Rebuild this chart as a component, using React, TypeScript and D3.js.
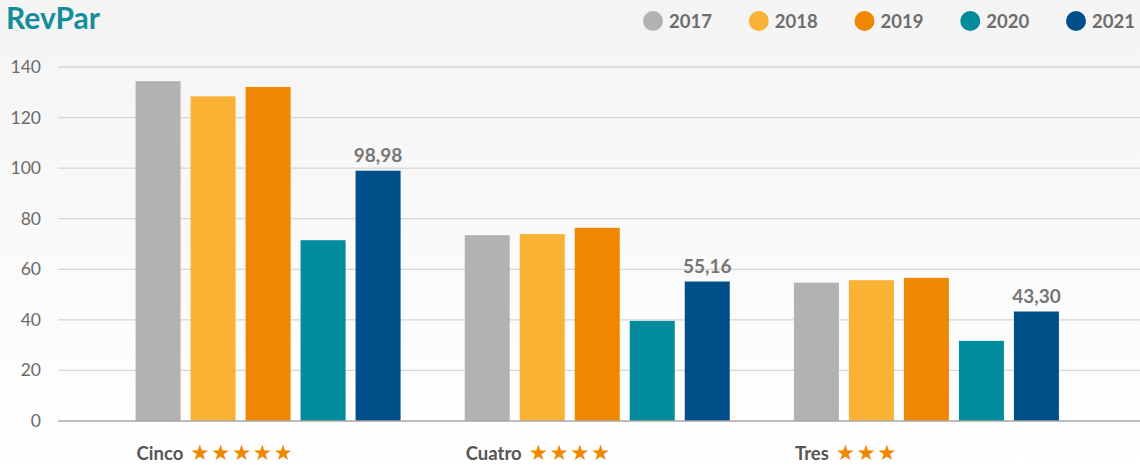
import React from "react";
import * as d3 from "d3";

const categories = ["Cinco", "Cuatro", "Tres"];
const starCounts = [5, 4, 3];
const years = ["2017", "2018", "2019", "2020", "2021"];
const values2017 = [134.4, 73.5, 54.7];
const values2018 = [128.4, 73.9, 55.7];
const values2019 = [132.1, 76.4, 56.6];
const values2020 = [71.5, 39.6, 31.7];
const values2021 = [98.98, 55.16, 43.3];
const seriesValues = [values2017, values2018, values2019, values2020, values2021];
const colors = ["#b2b2b2", "#f9b233", "#f08700", "#008c9b", "#004f8b"];
const yTicks = [0, 20, 40, 60, 80, 100, 120, 140];

const W = 1140;
const H = 468;
const FONT = "Lato, 'Open Sans', sans-serif";

export default function App() {
  const y = d3.scaleLinear().domain([0, 140]).range([421, 67]);
  const x0 = d3.scaleBand<string>().domain(categories).range([103.5, 1091]).paddingInner(0).paddingOuter(0);
  const inner = 55 * (5 - 10 / 55);
  const x1 = d3
    .scaleBand<string>()
    .domain(years)
    .range([0, inner])
    .paddingInner(10 / 55)
    .paddingOuter(0);
  const groupOffset = (x0.bandwidth() - inner) / 2;

  const legendX = d3.scalePoint<string>().domain(years).range([653, 1076]);

  return (
    <svg
      width={W}
      height={H}
      style={{ position: "absolute", left: 0, top: 0, display: "block" }}
      fontFamily={FONT}
    >
      <defs>
        <linearGradient id="bg" x1="0" y1="0" x2="0" y2="1">
          <stop offset="0" stopColor="#f4f4f4" />
          <stop offset="1" stopColor="#ffffff" />
        </linearGradient>
      </defs>
      <rect x={0} y={0} width={W} height={H} fill="url(#bg)" />
      <text x={6} y={29} fontSize={30} fontWeight={700} fill="#138d9c">
        RevPar
      </text>

      {years.map((yr, i) => (
        <g key={yr}>
          <circle cx={legendX(yr)} cy={21} r={10} fill={colors[i]} />
          <text x={(legendX(yr) as number) + 16} y={27.5} fontSize={18.5} fontWeight={700} fill="#6d6d6d">
            {yr}
          </text>
        </g>
      ))}

      {yTicks.map((t) => (
        <g key={t}>
          {t !== 0 && <line x1={58} x2={W} y1={y(t)} y2={y(t)} stroke="#d6d6d6" strokeWidth={1.3} />}
          <text x={41} y={y(t) + 6} fontSize={17.5} textAnchor="end" fill="#6a6a6a">
            {t}
          </text>
        </g>
      ))}

      {categories.map((c, ci) => (
        <g key={c} transform={`translate(${(x0(c) as number) + groupOffset},0)`}>
          {years.map((yr, si) => {
            const v = seriesValues[si][ci];
            return (
              <rect
                key={yr}
                x={x1(yr)}
                y={y(v)}
                width={x1.bandwidth()}
                height={y(0) - y(v)}
                fill={colors[si]}
              />
            );
          })}
          <text
            x={(x1("2021") as number) + x1.bandwidth() / 2}
            y={y(values2021[ci]) - 9}
            textAnchor="middle"
            fontSize={19}
            fontWeight={700}
            fill="#767676"
          >
            {d3.format(".2f")(values2021[ci]).replace(".", ",")}
          </text>
          <text x={1} y={460} fontSize={18.5} fontWeight={700} fill="#555555">
            {c}
            <tspan dx={7} fill="#f08700" fontFamily="'DejaVu Sans', sans-serif" fontSize={21.5} letterSpacing={1.5}>
              {"★".repeat(starCounts[ci])}
            </tspan>
          </text>
        </g>
      ))}

      <line x1={58} x2={W} y1={y(0)} y2={y(0)} stroke="#a6a6a6" strokeWidth={1.5} />
    </svg>
  );
}
